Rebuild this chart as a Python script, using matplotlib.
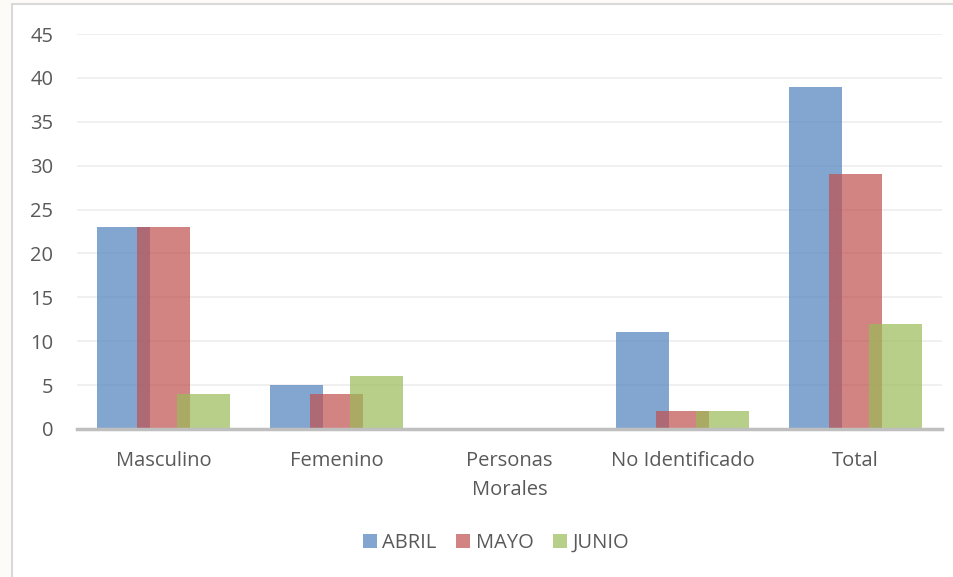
import matplotlib
matplotlib.use("Agg")
import matplotlib.pyplot as plt
from matplotlib.patches import Rectangle
import numpy as np

# data
categories = ["Masculino", "Femenino", "Personas\nMorales", "No Identificado", "Total"]
series_names = ["ABRIL", "MAYO", "JUNIO"]
abril = [23, 5, 0, 11, 39]
mayo = [23, 4, 0, 2, 29]
junio = [4, 6, 0, 2, 12]
y_ticks = [0, 5, 10, 15, 20, 25, 30, 35, 40, 45]

colors = ["#4F81BD", "#C0504D", "#9BBB59"]
text_color = "#595959"

plt.rcParams['font.family'] = ['Open Sans', 'DejaVu Sans']

fig = plt.figure(figsize=(9.54, 5.77), dpi=100, facecolor="#FCFBF8")
# white chart area with light gray border (drawn under the axes)
fig.patches.append(Rectangle((12 / 954, -0.05), 1.0, (577 - 4) / 577 + 0.05,
                             transform=fig.transFigure, facecolor="white",
                             edgecolor="#D9D9D9", linewidth=1.5, zorder=-5))

ax = fig.add_axes([77 / 954, (577 - 429) / 577, (942 - 77) / 954, (429 - 34) / 577])
ax.set_facecolor("none")

x = np.arange(len(categories))
width = 0.306
offset = 0.231
for i, (vals, name) in enumerate(zip([abril, mayo, junio], series_names)):
    ax.bar(x + (i - 1) * offset, vals, width, color=colors[i], alpha=0.7,
           label=name, zorder=2 + i, linewidth=0)

ax.set_xlim(-0.5, len(categories) - 0.5)
ax.set_ylim(0, 45)
ax.set_yticks(y_ticks)
ax.set_xticks(x)
ax.set_xticklabels(categories, linespacing=1.6)
ax.grid(axis="y", color="#EEEEEE", linewidth=1.2, zorder=0)
ax.set_axisbelow(True)

for s in ["top", "right", "left"]:
    ax.spines[s].set_visible(False)
ax.spines["bottom"].set_color("#BFBFBF")
ax.spines["bottom"].set_linewidth(2.5)
ax.spines["bottom"].set_zorder(10)

ax.tick_params(axis="both", length=0, colors=text_color, labelsize=14.5)
ax.tick_params(axis="y", pad=17)
ax.tick_params(axis="x", pad=16)

ax.legend(loc="center", bbox_to_anchor=(496 / 954, 1 - 543 / 577),
          bbox_transform=fig.transFigure, ncol=3, frameon=False,
          fontsize=14.5, labelcolor=text_color, handlelength=0.7,
          handleheight=0.7, handletextpad=0.25, columnspacing=1.0)

fig.savefig("out.png", dpi=100, facecolor=fig.get_facecolor())
